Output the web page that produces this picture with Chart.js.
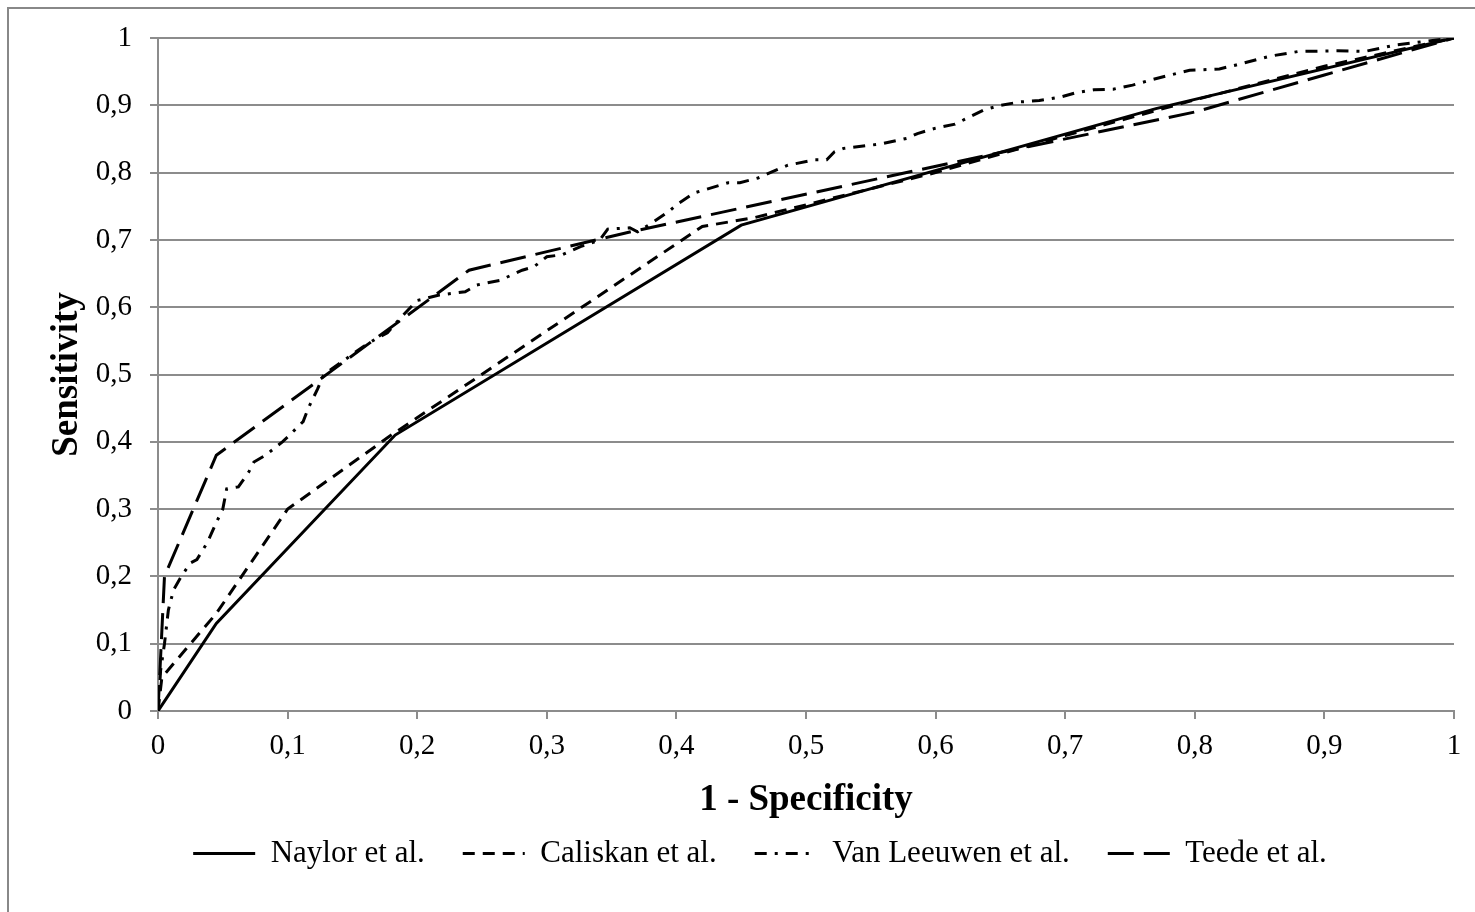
<!DOCTYPE html>
<html>
<head>
<meta charset="utf-8">
<title>ROC curves</title>
<script src="https://cdn.jsdelivr.net/npm/chart.js@4.4.1/dist/chart.umd.min.js"></script>
<style>
  html, body { margin: 0; padding: 0; background: #fff; overflow: hidden; }
  #frame { position: absolute; left: 7px; top: 7px; width: 1490px; height: 930px; border: 2px solid #888; }
  #wrap { position: absolute; left: 0; top: 0; width: 1475px; height: 912px; }
</style>
</head>
<body>
<div id="frame"></div>
<div id="wrap"><canvas id="roc"></canvas></div>
<script>
// 1 - specificity / sensitivity pairs
const naylorX = [0, 0.045, 0.183, 0.45, 0.77, 1];
const naylorY = [0, 0.13, 0.41, 0.722, 0.895, 1];

const caliskanX = [0, 0.003, 0.045, 0.1, 0.18, 0.42, 0.46, 0.6, 0.7, 0.8, 0.9, 1];
const caliskanY = [0, 0.05, 0.145, 0.3, 0.41, 0.72, 0.733, 0.8, 0.855, 0.908, 0.958, 1];

const leeuwenX = [0, 0.002, 0.005, 0.008, 0.012, 0.018, 0.025, 0.03, 0.038, 0.045, 0.05, 0.053, 0.062,
  0.07, 0.074, 0.083, 0.096, 0.1, 0.112, 0.116, 0.123, 0.128, 0.142, 0.158, 0.169, 0.177,
  0.19, 0.2, 0.217, 0.237, 0.246, 0.264, 0.281, 0.29, 0.3, 0.312, 0.326, 0.341, 0.347, 0.364,
  0.37, 0.381, 0.394, 0.4, 0.414, 0.421, 0.44, 0.449, 0.463, 0.481, 0.486, 0.507, 0.516,
  0.522, 0.529, 0.551, 0.559, 0.578, 0.586, 0.6, 0.615, 0.637, 0.65, 0.665, 0.68, 0.696,
  0.709, 0.722, 0.737, 0.752, 0.765, 0.781, 0.796, 0.819, 0.832, 0.858, 0.88, 0.91, 0.931,
  0.956, 1];
const leeuwenY = [0, 0.06, 0.1, 0.15, 0.18, 0.2, 0.22, 0.225, 0.25, 0.28, 0.3, 0.33, 0.333,
  0.355, 0.37, 0.38, 0.4, 0.407, 0.43, 0.45, 0.478, 0.5, 0.519, 0.541, 0.554, 0.562,
  0.59, 0.61, 0.618, 0.623, 0.633, 0.64, 0.655, 0.66, 0.675, 0.678, 0.69, 0.7, 0.716, 0.718,
  0.712, 0.725, 0.742, 0.752, 0.77, 0.774, 0.785, 0.785, 0.792, 0.807, 0.811, 0.819, 0.819,
  0.831, 0.836, 0.841, 0.843, 0.851, 0.858, 0.866, 0.872, 0.893, 0.9, 0.905, 0.907, 0.912,
  0.919, 0.923, 0.924, 0.93, 0.937, 0.945, 0.952, 0.954, 0.96, 0.973, 0.98, 0.981, 0.98,
  0.99, 1];

const teedeX = [0, 0.005, 0.045, 0.24, 0.36, 0.65, 0.8, 0.9, 1];
const teedeY = [0, 0.2, 0.38, 0.655, 0.71, 0.83, 0.89, 0.945, 1];

const seriesNames = ['Naylor et al.', 'Caliskan et al.', 'Van Leeuwen et al.', 'Teede et al.'];

function pts(xs, ys) {
  return xs.map((x, i) => ({ x: x, y: ys[i] }));
}

function fmt(v) {
  return (Math.round(v * 10) / 10).toString().replace('.', ',');
}

const serif = 'Liberation Serif, Times New Roman, serif';
const gridGrey = '#8c8c8c';

function line(label, data, dash) {
  return {
    label: label,
    data: data,
    showLine: true,
    borderColor: '#000',
    backgroundColor: '#000',
    borderWidth: 3,
    borderDash: dash,
    pointRadius: 0,
    pointHoverRadius: 0,
    tension: 0,
    fill: false
  };
}

const rocChart = new Chart(document.getElementById('roc'), {
  type: 'scatter',
  data: {
    datasets: [
      line(seriesNames[0], pts(naylorX, naylorY), []),
      line(seriesNames[1], pts(caliskanX, caliskanY), [12, 8]),
      line(seriesNames[2], pts(leeuwenX, leeuwenY), [12, 8, 3, 8]),
      line(seriesNames[3], pts(teedeX, teedeY), [26, 10])
    ]
  },
  options: {
    responsive: true,
    maintainAspectRatio: false,
    animation: false,
    layout: { padding: { left: 66, right: 21, top: 38, bottom: 33 } },
    plugins: {
      legend: {
        position: 'bottom',
        labels: {
          usePointStyle: true,
          pointStyle: 'line',
          pointStyleWidth: 62,
          padding: 38,
          color: '#000',
          font: { family: serif, size: 31 },
          generateLabels: function(chart) {
            const items = Chart.defaults.plugins.legend.labels.generateLabels(chart);
            items.forEach(function(it) {
              const ds = chart.data.datasets[it.datasetIndex];
              it.lineDash = ds.borderDash;
              it.lineWidth = 3;
              it.strokeStyle = '#000';
              it.pointStyle = 'line';
            });
            return items;
          }
        }
      },
      tooltip: { enabled: false }
    },
    scales: {
      x: {
        type: 'linear',
        min: 0,
        max: 1,
        ticks: {
          stepSize: 0.1,
          color: '#000',
          padding: 10,
          font: { family: serif, size: 29 },
          callback: fmt
        },
        grid: { drawOnChartArea: false, drawTicks: true, tickLength: 8, color: gridGrey, lineWidth: 2 },
        border: { display: true, color: gridGrey, width: 2 },
        title: {
          display: true,
          text: '1 - Specificity',
          color: '#000',
          font: { family: serif, size: 37, weight: 'bold' },
          padding: { top: 0, bottom: -23 }
        },
        afterFit: function(s) { s.height = 89; }
      },
      y: {
        type: 'linear',
        min: 0,
        max: 1,
        ticks: {
          stepSize: 0.1,
          color: '#000',
          padding: 18,
          font: { family: serif, size: 29 },
          callback: fmt
        },
        grid: { color: gridGrey, lineWidth: 2, tickLength: 8 },
        border: { display: true, color: gridGrey, width: 2 },
        title: {
          display: true,
          text: 'Sensitivity',
          color: '#000',
          font: { family: serif, size: 37, weight: 'bold' },
          padding: { top: -21, bottom: 0 }
        },
        afterFit: function(s) { s.width = 92; }
      }
    }
  }
});
</script>
</body>
</html>
